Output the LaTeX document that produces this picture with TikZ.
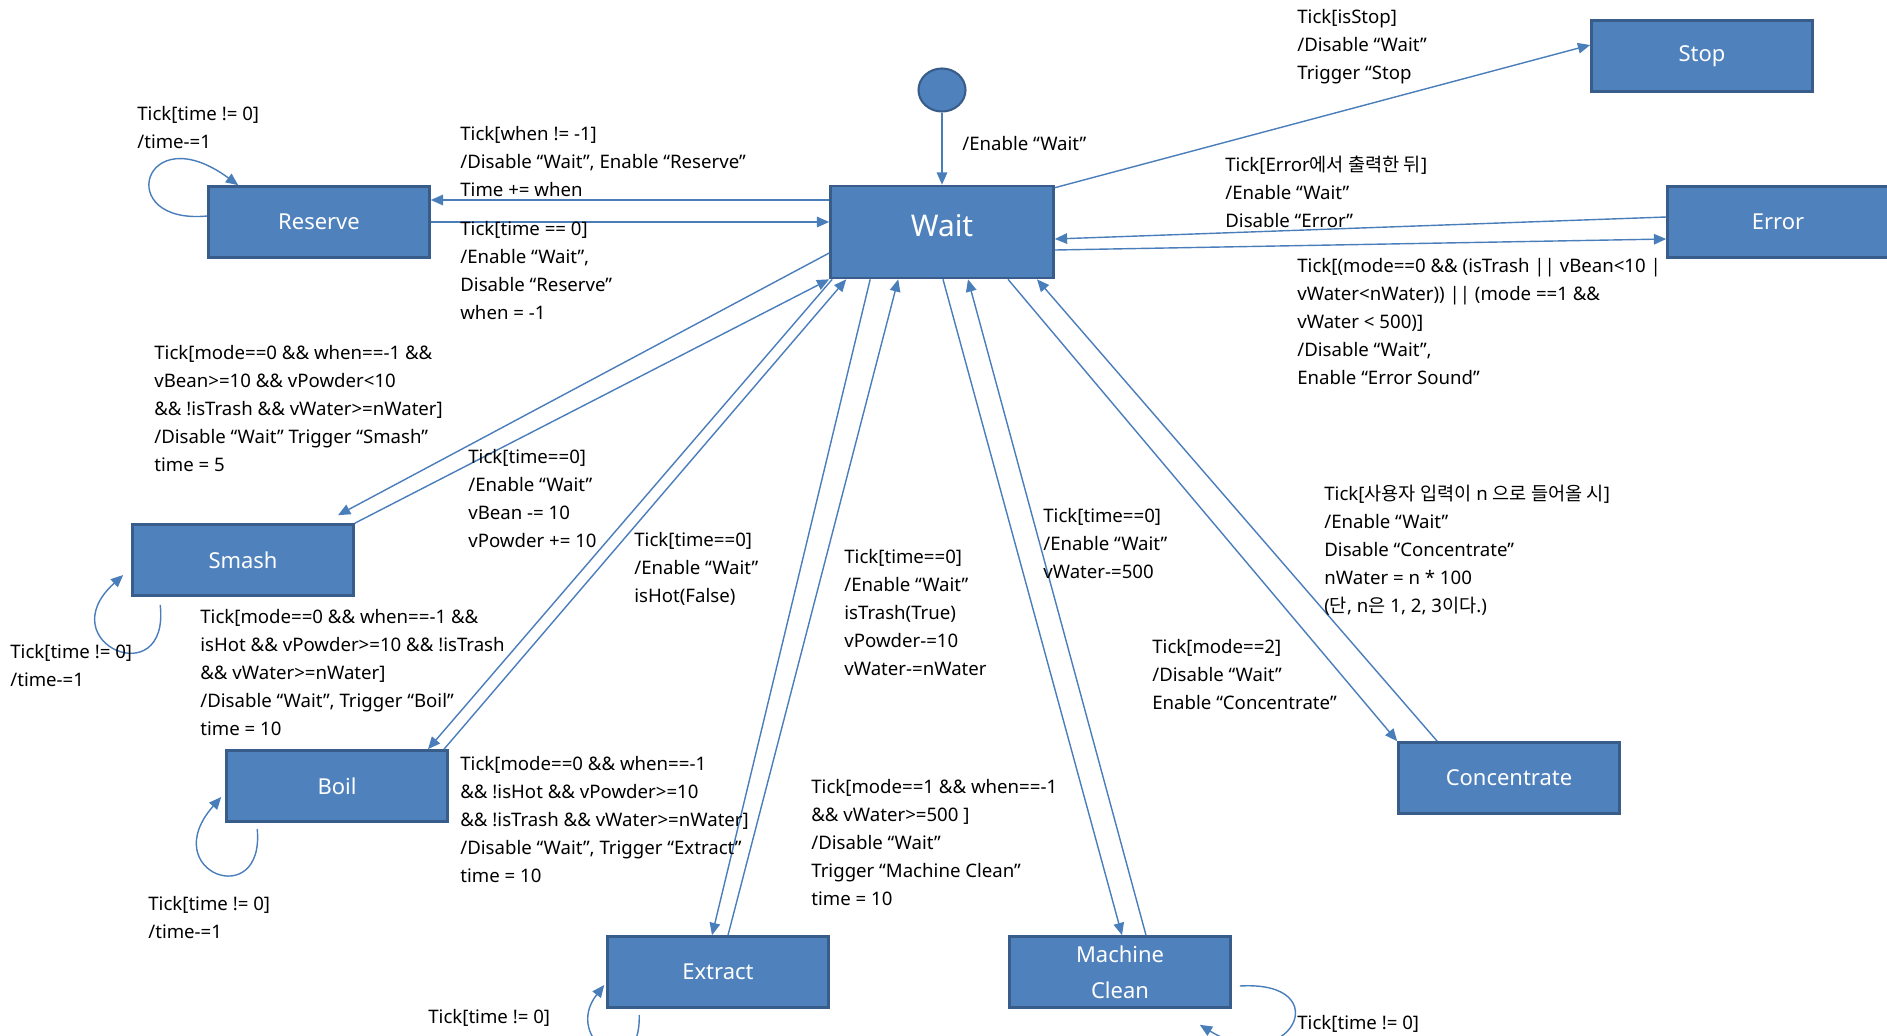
\documentclass[tikz,border=0pt]{standalone}
\usepackage{fontspec}
\setmainfont{Noto Sans}
\newfontfamily\kr{Noto Sans CJK KR}
\usetikzlibrary{arrows.meta,calc,shapes.geometric}
\definecolor{statefill}{HTML}{4F81BD}
\definecolor{stateline}{HTML}{385D8A}
\definecolor{arrowblue}{HTML}{4A7EBB}
\tikzset{
  state/.style={draw=stateline, line width=1.5pt, fill=statefill, text=white,
    minimum width=4.42cm, minimum height=1.42cm, inner sep=2pt, align=center,
    font=\fontsize{12.5}{20.5}\selectfont},
  trans/.style={draw=arrowblue, line width=0.8pt, -{Triangle[length=7pt,width=6pt]}},
  note/.style={anchor=north west, align=left, inner sep=0pt,
    font=\fontsize{10.6}{15.9}\selectfont},
}
\begin{document}
\begin{tikzpicture}[x=0.02cm, y=-0.02cm]
\useasboundingbox (0,0) rectangle (1887,1035);
\node[state] (reserve) at (319,222) {Reserve};
\node[state, minimum width=4.46cm, minimum height=1.84cm, text depth=7pt, font=\fontsize{17}{20}\selectfont] (wait) at (942,232) {Wait};
\node[state] (stop) at (1702,56) {Stop};
\node[state] (error) at (1778,222) {Error};
\node[state] (smash) at (243,560) {Smash};
\node[state] (boil) at (337,786) {Boil};
\node[state] (extract) at (718,972) {Extract};
\node[state] (mc) at (1120,972) {Machine\\Clean};
\node[state] (conc) at (1509,778) {Concentrate};
\node[ellipse, draw=stateline, fill=statefill, line width=1.2pt, inner sep=0pt,
  minimum width=0.94cm, minimum height=0.86cm] (init) at (942,90) {};

\draw[trans] (init) -- (wait);
\draw[trans] ($(wait.west)+(0,-32)$) -- ($(reserve.east)+(0,-22)$);
\draw[trans] (reserve.east) -- (reserve.east -| wait.west);
\draw[trans] ($(wait.north east)+(0,3)$) -- ($(stop.west)+(0,-11)$);
\draw[trans] ($(error.west)+(0,-5)$) -- ($(wait.east)+(0,7)$);
\draw[trans] ($(wait.east)+(0,18)$) -- ($(error.west)+(0,17)$);
\draw[trans] ($(wait.west)+(0,21)$) -- ($(smash.north)+(95,-8)$);
\draw[trans] (smash.north east) -- (wait.south west);
\draw[trans] ($(wait.south west)+(3,0)$) -- ($(boil.north)+(91,0)$);
\draw[trans] ($(boil.north)+(107,0)$) -- ($(wait.south west)+(17,0)$);
\draw[trans] ($(wait.south west)+(41,0)$) -- ($(extract.north)+(-6,0)$);
\draw[trans] ($(extract.north)+(10,0)$) -- ($(wait.south west)+(69,0)$);
\draw[trans] ($(wait.south)+(1,0)$) -- ($(mc.north)+(2,0)$);
\draw[trans] ($(mc.north)+(26,0)$) -- ($(wait.south)+(26,0)$);
\draw[trans] ($(wait.south)+(66,0)$) -- (conc.north west);
\draw[trans] ($(conc.north west)+(40,0)$) -- ($(wait.south)+(95,0)$);

\draw[trans] ($(reserve.west)+(0,-6)$) .. controls +(-95,9) and +(-95,-70) .. ($(reserve.north west)+(31,0)$);
\draw[trans] ($(smash.south west)+(29,8)$) .. controls +(10,90) and +(-75,68) .. ($(smash.west)+(-8,15)$);
\draw[trans] ($(boil.south west)+(32,6)$) .. controls +(8,84) and +(-66,75) .. ($(boil.west)+(-4,11)$);
\draw[trans] ($(extract.south west)+(33,6)$) .. controls +(2,75) and +(-43,55) .. ($(extract.west)+(-2,13)$);
\draw[trans] ($(mc.east)+(8,14)$) .. controls +(100,-6) and +(90,55) .. ($(mc.south east)+(-32,16)$);

\node[note] (linit) at (962,136) {/Enable ``Wait''};
\node[note] (lreserve) at (137,106) {Tick[time != 0]\\/time-=1};
\node[note] (lwr) at (460,126) {Tick[when != -1]\\/Disable ``Wait'', Enable ``Reserve''\\Time += when};
\node[note] (lrw) at (460,221) {Tick[time == 0]\\/Enable ``Wait'',\\Disable ``Reserve''\\when = -1};
\node[note] (lstop) at (1297,9) {Tick[isStop]\\/Disable ``Wait''\\Trigger ``Stop};
\node[note] (lew) at (1225,156) {Tick[Error{\kr 에서 출력한 뒤}]\\/Enable ``Wait''\\Disable ``Error''};
\node[note] (lwe) at (1297,258) {Tick[(mode==0 \&\& (isTrash || vBean<10 |\\vWater<nWater)) || (mode ==1 \&\&\\vWater < 500)]\\/Disable ``Wait'',\\Enable ``Error Sound''};
\node[note] (lws) at (154,345) {Tick[mode==0 \&\& when==-1 \&\&\\vBean>=10 \&\& vPowder<10\\\&\& !isTrash \&\& vWater>=nWater]\\/Disable ``Wait'' Trigger ``Smash''\\time = 5};
\node[note] (lsw) at (468,449) {Tick[time==0]\\/Enable ``Wait''\\vBean -= 10\\vPowder += 10};
\node[note] (lsmash) at (10,644) {Tick[time != 0]\\/time-=1};
\node[note] (lwb) at (200,609) {Tick[mode==0 \&\& when==-1 \&\&\\isHot \&\& vPowder>=10 \&\& !isTrash\\\&\& vWater>=nWater]\\/Disable ``Wait'', Trigger ``Boil''\\time = 10};
\node[note] (lbw) at (634,532) {Tick[time==0]\\/Enable ``Wait''\\isHot(False)};
\node[note] (lboil) at (148,896) {Tick[time != 0]\\/time-=1};
\node[note] (lwx) at (460,756) {Tick[mode==0 \&\& when==-1\\\&\& !isHot \&\& vPowder>=10\\\&\& !isTrash \&\& vWater>=nWater]\\/Disable ``Wait'', Trigger ``Extract''\\time = 10};
\node[note] (lxw) at (844,549) {Tick[time==0]\\/Enable ``Wait''\\isTrash(True)\\vPowder-=10\\vWater-=nWater};
\node[note] (lextract) at (428,1009) {Tick[time != 0]};
\node[note] (lwm) at (811,779) {Tick[mode==1 \&\& when==-1\\\&\& vWater>=500 ]\\/Disable ``Wait''\\Trigger ``Machine Clean''\\time = 10};
\node[note] (lmw) at (1043,508) {Tick[time==0]\\/Enable ``Wait''\\vWater-=500};
\node[note] (lmc) at (1297,1015) {Tick[time != 0]};
\node[note] (lwc) at (1152,639) {Tick[mode==2]\\/Disable ``Wait''\\Enable ``Concentrate''};
\node[note] (lcw) at (1324,485) {Tick[{\kr 사용자 입력이} n {\kr 으로 들어올 시}]\\/Enable ``Wait''\\Disable ``Concentrate''\\nWater = n * 100\\({\kr 단}, n{\kr 은} 1, 2, 3{\kr 이다}.)};
\end{tikzpicture}
\end{document}
